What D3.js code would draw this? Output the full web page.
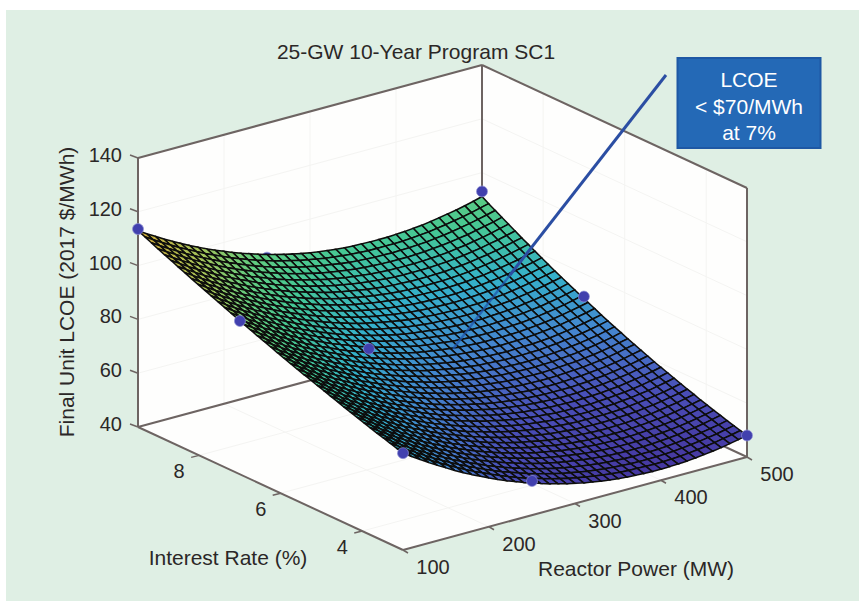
<!DOCTYPE html>
<html>
<head>
<meta charset="utf-8">
<script src="https://cdn.jsdelivr.net/npm/d3@7"></script>
<style>
  body { margin: 0; background: #fff; }
  text { font-family: "Liberation Sans", Arial, sans-serif; fill: #2b2727; }
</style>
</head>
<body>
<div id="wrapper"></div>
<script>
// axis ticks
const reactorTicks = [100, 200, 300, 400, 500];
const interestTicks = [4, 6, 8];
const lcoeTicks = [40, 60, 80, 100, 120, 140];

// the nine cases marked on the surface
const markerPower = [100, 100, 100, 250, 250, 250, 500, 500, 500];
const markerRate = [3, 7, 9.5, 3, 7, 9.5, 3, 7, 9.5];
const markerLcoe = [76, 97, 113.6, 52.7, 73.7, 90, 48, 71.5, 93];

const callout = ['LCOE', '< $70/MWh', 'at 7%'];

// mesh: one row per interest rate (3 to 9.5), one column per reactor power (100 to 500)
const meshPower = d3.range(100, 501, 10);
const meshRate = d3.range(41).map(k => 3 + k * 0.1625);
const meshLcoe = [
  [76.0,73.9,71.9,69.9,68.0,66.2,64.4,62.7,61.1,59.6,58.1,56.7,55.4,54.2,53.0,51.9,50.9,49.9,49.1,48.2,47.5,46.8,46.3,45.7,45.3,44.9,44.6,44.4,44.2,44.1,44.1,44.2,44.3,44.5,44.8,45.2,45.6,46.1,46.7,47.3,48.0],
  [76.7,74.6,72.6,70.6,68.7,66.9,65.2,63.5,61.9,60.3,58.9,57.5,56.2,54.9,53.7,52.6,51.6,50.7,49.8,49.0,48.2,47.6,47.0,46.5,46.0,45.6,45.3,45.1,45.0,44.9,44.8,44.9,45.0,45.2,45.5,45.9,46.3,46.8,47.4,48.0,48.7],
  [77.5,75.4,73.3,71.4,69.5,67.6,65.9,64.2,62.6,61.1,59.6,58.2,56.9,55.6,54.5,53.4,52.3,51.4,50.5,49.7,48.9,48.3,47.7,47.1,46.7,46.3,46.0,45.8,45.6,45.5,45.5,45.6,45.7,45.9,46.2,46.6,47.0,47.5,48.0,48.7,49.4],
  [78.3,76.1,74.1,72.1,70.2,68.4,66.6,65.0,63.3,61.8,60.4,59.0,57.6,56.4,55.2,54.1,53.1,52.1,51.2,50.4,49.7,49.0,48.4,47.9,47.4,47.0,46.7,46.5,46.3,46.2,46.3,46.3,46.4,46.6,46.9,47.3,47.7,48.2,48.8,49.4,50.1],
  [79.0,76.9,74.9,72.9,71.0,69.2,67.4,65.7,64.1,62.6,61.1,59.7,58.4,57.2,56.0,54.9,53.9,52.9,52.0,51.2,50.5,49.8,49.2,48.7,48.2,47.8,47.5,47.2,47.1,47.0,47.0,47.0,47.2,47.4,47.7,48.0,48.5,48.9,49.5,50.2,50.9],
  [79.8,77.7,75.7,73.7,71.8,70.0,68.2,66.5,64.9,63.4,61.9,60.5,59.2,58.0,56.8,55.7,54.7,53.7,52.8,52.0,51.2,50.6,50.0,49.5,49.0,48.6,48.3,48.0,47.9,47.8,47.8,47.8,48.0,48.2,48.5,48.8,49.2,49.7,50.3,50.9,51.6],
  [80.6,78.5,76.4,74.5,72.6,70.7,69.0,67.3,65.7,64.2,62.7,61.3,60.0,58.7,57.6,56.5,55.4,54.5,53.6,52.8,52.0,51.4,50.8,50.2,49.8,49.4,49.1,48.8,48.7,48.6,48.6,48.6,48.8,49.0,49.3,49.6,50.0,50.5,51.1,51.7,52.4],
  [81.4,79.3,77.3,75.3,73.4,71.5,69.8,68.1,66.5,65.0,63.5,62.1,60.8,59.5,58.4,57.3,56.2,55.3,54.4,53.6,52.8,52.2,51.6,51.0,50.6,50.2,49.9,49.6,49.5,49.4,49.4,49.4,49.6,49.8,50.1,50.4,50.8,51.3,51.9,52.5,53.2],
  [82.2,80.1,78.1,76.1,74.2,72.4,70.6,68.9,67.3,65.8,64.3,62.9,61.6,60.4,59.2,58.1,57.0,56.1,55.2,54.4,53.6,53.0,52.4,51.8,51.4,51.0,50.7,50.5,50.3,50.2,50.2,50.3,50.4,50.6,50.9,51.2,51.7,52.2,52.7,53.4,54.1],
  [83.0,80.9,78.9,76.9,75.0,73.2,71.4,69.7,68.1,66.6,65.1,63.7,62.4,61.2,60.0,58.9,57.9,56.9,56.0,55.2,54.5,53.8,53.2,52.7,52.2,51.9,51.6,51.3,51.2,51.1,51.1,51.1,51.3,51.5,51.7,52.1,52.5,53.0,53.6,54.2,54.9],
  [83.9,81.7,79.7,77.7,75.8,74.0,72.3,70.6,69.0,67.4,66.0,64.6,63.3,62.0,60.8,59.7,58.7,57.8,56.9,56.1,55.3,54.7,54.1,53.6,53.1,52.7,52.4,52.2,52.0,52.0,52.0,52.0,52.1,52.3,52.6,53.0,53.4,53.9,54.4,55.1,55.8],
  [84.7,82.6,80.5,78.6,76.7,74.9,73.1,71.4,69.8,68.3,66.8,65.4,64.1,62.9,61.7,60.6,59.6,58.6,57.7,56.9,56.2,55.5,54.9,54.4,54.0,53.6,53.3,53.1,52.9,52.8,52.8,52.9,53.0,53.2,53.5,53.8,54.3,54.7,55.3,56.0,56.7],
  [85.6,83.4,81.4,79.4,77.5,75.7,74.0,72.3,70.7,69.1,67.7,66.3,65.0,63.7,62.6,61.5,60.4,59.5,58.6,57.8,57.1,56.4,55.8,55.3,54.8,54.5,54.2,53.9,53.8,53.7,53.7,53.7,53.9,54.1,54.4,54.7,55.1,55.6,56.2,56.8,57.6],
  [86.4,84.3,82.3,80.3,78.4,76.6,74.8,73.1,71.5,70.0,68.6,67.2,65.9,64.6,63.4,62.3,61.3,60.4,59.5,58.7,57.9,57.3,56.7,56.2,55.7,55.4,55.1,54.8,54.7,54.6,54.6,54.7,54.8,55.0,55.3,55.6,56.1,56.6,57.1,57.8,58.5],
  [87.3,85.2,83.1,81.2,79.3,77.5,75.7,74.0,72.4,70.9,69.4,68.1,66.7,65.5,64.3,63.2,62.2,61.3,60.4,59.6,58.9,58.2,57.6,57.1,56.7,56.3,56.0,55.8,55.6,55.5,55.5,55.6,55.8,56.0,56.2,56.6,57.0,57.5,58.1,58.7,59.4],
  [88.1,86.0,84.0,82.0,80.1,78.3,76.6,74.9,73.3,71.8,70.3,68.9,67.6,66.4,65.2,64.1,63.1,62.2,61.3,60.5,59.8,59.1,58.5,58.0,57.6,57.2,56.9,56.7,56.5,56.5,56.5,56.5,56.7,56.9,57.2,57.5,58.0,58.5,59.0,59.7,60.4],
  [89.0,86.9,84.9,82.9,81.0,79.2,77.5,75.8,74.2,72.7,71.2,69.9,68.6,67.3,66.2,65.1,64.1,63.1,62.2,61.4,60.7,60.0,59.5,59.0,58.5,58.2,57.9,57.6,57.5,57.4,57.4,57.5,57.7,57.9,58.2,58.5,58.9,59.4,60.0,60.7,61.4],
  [89.9,87.8,85.8,83.8,81.9,80.1,78.4,76.7,75.1,73.6,72.2,70.8,69.5,68.3,67.1,66.0,65.0,64.1,63.2,62.4,61.7,61.0,60.4,59.9,59.5,59.1,58.8,58.6,58.5,58.4,58.4,58.5,58.7,58.9,59.1,59.5,59.9,60.4,61.0,61.7,62.4],
  [90.8,88.7,86.7,84.7,82.9,81.1,79.3,77.7,76.1,74.5,73.1,71.7,70.4,69.2,68.0,67.0,66.0,65.0,64.1,63.4,62.6,62.0,61.4,60.9,60.5,60.1,59.8,59.6,59.5,59.4,59.4,59.5,59.7,59.9,60.1,60.5,60.9,61.4,62.0,62.7,63.4],
  [91.7,89.6,87.6,85.7,83.8,82.0,80.2,78.6,77.0,75.5,74.0,72.7,71.4,70.2,69.0,67.9,66.9,66.0,65.1,64.3,63.6,63.0,62.4,61.9,61.5,61.1,60.8,60.6,60.5,60.4,60.4,60.5,60.6,60.9,61.2,61.5,62.0,62.5,63.1,63.7,64.5],
  [92.7,90.5,88.5,86.6,84.7,82.9,81.2,79.5,77.9,76.4,75.0,73.6,72.3,71.1,70.0,68.9,67.9,67.0,66.1,65.3,64.6,64.0,63.4,62.9,62.5,62.1,61.8,61.6,61.5,61.4,61.4,61.5,61.7,61.9,62.2,62.6,63.0,63.5,64.1,64.8,65.5],
  [93.6,91.5,89.5,87.5,85.7,83.9,82.1,80.5,78.9,77.4,76.0,74.6,73.3,72.1,71.0,69.9,68.9,68.0,67.1,66.3,65.6,65.0,64.4,63.9,63.5,63.1,62.9,62.7,62.5,62.5,62.5,62.6,62.7,63.0,63.3,63.7,64.1,64.6,65.2,65.9,66.6],
  [94.5,92.4,90.4,88.5,86.6,84.8,83.1,81.5,79.9,78.4,77.0,75.6,74.3,73.1,72.0,70.9,69.9,69.0,68.1,67.3,66.6,66.0,65.4,64.9,64.5,64.2,63.9,63.7,63.6,63.5,63.6,63.7,63.8,64.0,64.3,64.7,65.2,65.7,66.3,67.0,67.7],
  [95.5,93.4,91.4,89.5,87.6,85.8,84.1,82.4,80.9,79.4,78.0,76.6,75.3,74.1,73.0,72.0,71.0,70.0,69.2,68.4,67.7,67.0,66.5,66.0,65.6,65.3,65.0,64.8,64.7,64.6,64.7,64.8,64.9,65.2,65.5,65.9,66.3,66.9,67.5,68.1,68.9],
  [96.4,94.4,92.4,90.4,88.6,86.8,85.1,83.4,81.8,80.4,79.0,77.6,76.3,75.1,74.0,73.0,72.0,71.0,70.2,69.4,68.7,68.1,67.6,67.1,66.7,66.3,66.1,65.9,65.8,65.8,65.8,65.9,66.0,66.3,66.6,67.0,67.4,68.0,68.6,69.3,70.0],
  [97.4,95.3,93.4,91.4,89.6,87.8,86.1,84.4,82.9,81.4,80.0,78.6,77.4,76.2,75.0,74.0,73.0,72.1,71.3,70.5,69.8,69.1,68.6,68.2,67.8,67.4,67.2,67.0,66.9,66.8,66.9,67.0,67.2,67.4,67.7,68.1,68.6,69.1,69.7,70.4,71.2],
  [98.4,96.3,94.3,92.4,90.6,88.8,87.1,85.5,83.9,82.4,81.0,79.7,78.4,77.2,76.1,75.0,74.1,73.2,72.3,71.6,70.9,70.2,69.7,69.3,68.9,68.5,68.3,68.1,68.0,68.0,68.0,68.1,68.3,68.6,68.9,69.3,69.7,70.3,70.9,71.6,72.4],
  [99.4,97.3,95.3,93.4,91.6,89.8,88.1,86.5,84.9,83.4,82.0,80.7,79.4,78.2,77.1,76.1,75.1,74.2,73.4,72.6,71.9,71.3,70.8,70.4,70.0,69.6,69.4,69.2,69.1,69.1,69.1,69.3,69.5,69.7,70.0,70.5,70.9,71.5,72.1,72.8,73.6],
  [100.4,98.3,96.3,94.4,92.6,90.8,89.1,87.5,86.0,84.5,83.1,81.8,80.5,79.3,78.2,77.2,76.2,75.3,74.5,73.7,73.1,72.5,71.9,71.5,71.1,70.8,70.6,70.4,70.3,70.3,70.3,70.5,70.7,70.9,71.2,71.7,72.2,72.7,73.4,74.1,74.8],
  [101.4,99.3,97.3,95.4,93.6,91.8,90.2,88.5,87.0,85.5,84.2,82.8,81.6,80.4,79.3,78.3,77.3,76.4,75.6,74.9,74.2,73.6,73.1,72.6,72.3,72.0,71.7,71.6,71.5,71.4,71.5,71.6,71.8,72.1,72.4,72.9,73.4,74.0,74.6,75.3,76.0],
  [102.4,100.3,98.4,96.5,94.6,92.9,91.2,89.6,88.1,86.6,85.2,83.9,82.7,81.5,80.4,79.4,78.4,77.5,76.7,76.0,75.3,74.8,74.2,73.8,73.4,73.1,72.9,72.8,72.7,72.6,72.7,72.9,73.1,73.4,73.7,74.1,74.6,75.2,75.9,76.6,77.3],
  [103.4,101.4,99.4,97.5,95.7,93.9,92.3,90.7,89.1,87.7,86.3,85.0,83.8,82.6,81.5,80.5,79.6,78.7,77.9,77.2,76.5,75.9,75.4,75.0,74.6,74.3,74.1,74.0,73.9,73.8,73.9,74.1,74.3,74.6,75.0,75.4,75.9,76.5,77.1,77.8,78.6],
  [104.4,102.4,100.4,98.6,96.7,95.0,93.3,91.8,90.2,88.8,87.4,86.1,84.9,83.7,82.7,81.6,80.7,79.8,79.0,78.3,77.7,77.1,76.6,76.2,75.8,75.5,75.3,75.2,75.1,75.1,75.2,75.3,75.5,75.9,76.2,76.7,77.2,77.8,78.4,79.2,79.9],
  [105.5,103.4,101.5,99.6,97.8,96.1,94.4,92.9,91.3,89.9,88.5,87.2,86.0,84.9,83.8,82.8,81.9,81.0,80.2,79.5,78.9,78.3,77.8,77.4,77.0,76.7,76.5,76.4,76.3,76.4,76.4,76.6,76.8,77.1,77.5,78.0,78.5,79.1,79.8,80.5,81.3],
  [106.5,104.5,102.6,100.7,98.9,97.2,95.5,94.0,92.4,91.0,89.7,88.4,87.2,86.0,85.0,84.0,83.1,82.2,81.4,80.7,80.1,79.5,79.0,78.6,78.2,77.9,77.8,77.6,77.6,77.6,77.7,77.8,78.1,78.4,78.8,79.3,79.8,80.4,81.1,81.9,82.6],
  [107.6,105.6,103.6,101.8,100.0,98.3,96.6,95.1,93.6,92.2,90.8,89.5,88.3,87.2,86.1,85.1,84.2,83.4,82.6,81.9,81.3,80.7,80.2,79.8,79.5,79.2,79.0,78.9,78.9,78.9,79.0,79.2,79.4,79.7,80.1,80.6,81.1,81.8,82.4,83.2,84.0],
  [108.6,106.6,104.7,102.9,101.1,99.4,97.7,96.2,94.7,93.3,91.9,90.7,89.5,88.3,87.3,86.3,85.4,84.6,83.8,83.1,82.5,81.9,81.5,81.1,80.7,80.5,80.3,80.2,80.2,80.2,80.3,80.5,80.7,81.0,81.5,81.9,82.5,83.1,83.8,84.6,85.4],
  [109.7,107.7,105.9,104.0,102.2,100.5,98.9,97.3,95.8,94.4,93.1,91.8,90.6,89.5,88.5,87.5,86.6,85.8,85.0,84.3,83.7,83.2,82.7,82.3,82.0,81.8,81.6,81.5,81.5,81.5,81.6,81.8,82.1,82.4,82.8,83.3,83.8,84.5,85.2,85.9,86.8],
  [110.8,108.8,106.9,105.1,103.3,101.6,100.0,98.5,97.0,95.6,94.3,93.0,91.8,90.7,89.7,88.7,87.8,87.0,86.3,85.6,85.0,84.5,84.0,83.6,83.3,83.1,82.9,82.9,82.8,82.9,83.0,83.2,83.4,83.8,84.2,84.7,85.3,85.9,86.6,87.4,88.2],
  [111.9,109.9,108.0,106.2,104.4,102.8,101.2,99.6,98.2,96.8,95.4,94.2,93.0,91.9,90.9,89.9,89.1,88.3,87.5,86.9,86.3,85.7,85.3,84.9,84.6,84.4,84.2,84.2,84.2,84.2,84.3,84.5,84.8,85.1,85.6,86.1,86.7,87.3,88.0,88.8,89.6],
  [113.0,111.0,109.2,107.3,105.6,103.9,102.3,100.8,99.3,97.9,96.7,95.4,94.2,93.2,92.1,91.2,90.3,89.5,88.8,88.1,87.5,87.0,86.6,86.2,85.9,85.7,85.6,85.5,85.5,85.5,85.7,85.9,86.2,86.5,87.0,87.5,88.1,88.7,89.4,90.2,91.1]
];

function drawSurfaceChart() {
  const dimensions = { width: 859, height: 603 };

  // box projection: each data axis moves the point along its own screen direction
  const powerX = d3.scaleLinear().domain([100, 500]).range([0, 344]);
  const powerY = d3.scaleLinear().domain([100, 500]).range([0, -93]);
  const rateX = d3.scaleLinear().domain([3, 9.5]).range([403, 138]);
  const rateY = d3.scaleLinear().domain([3, 9.5]).range([550, 427]);
  const lcoeY = d3.scaleLinear().domain([40, 140]).range([0, -269]);

  const project = (power, rate, lcoe) => [
    rateX(rate) + powerX(power),
    rateY(rate) + powerY(power) + lcoeY(lcoe)
  ];

  const color = d3.scaleLinear()
    .domain([44, 55, 65, 75, 85, 92, 100, 113])
    .range(['#4537a0', '#4a50b8', '#4485cf', '#35b0cb', '#45c795', '#62cc80', '#a3c45c', '#d0a838'])
    .clamp(true);

  const wrapper = d3.select('#wrapper')
    .append('svg')
      .attr('width', dimensions.width)
      .attr('height', dimensions.height)
      .style('display', 'block');

  const soften = wrapper.append('defs').append('filter')
      .attr('id', 'soften')
      .attr('x', '-5%')
      .attr('y', '-5%')
      .attr('width', '110%')
      .attr('height', '110%');
  soften.append('feGaussianBlur').attr('stdDeviation', 0.45);

  wrapper.append('rect')
      .attr('x', 6)
      .attr('y', 10)
      .attr('width', 853)
      .attr('height', 591)
      .attr('fill', '#dfefe4');

  const line = d3.line();
  const polygon = pts => line(pts) + 'Z';

  // back panes and floor
  const panes = [
    [project(100, 9.5, 40), project(100, 9.5, 140), project(500, 9.5, 140), project(500, 9.5, 40)],
    [project(500, 9.5, 40), project(500, 9.5, 140), project(500, 3, 140), project(500, 3, 40)],
    [project(100, 9.5, 40), project(500, 9.5, 40), project(500, 3, 40), project(100, 3, 40)]
  ];
  wrapper.append('g').selectAll('path')
    .data(panes)
    .join('path')
      .attr('d', polygon)
      .attr('fill', '#fefefd');

  // faint grid
  const grid = wrapper.append('g')
      .attr('fill', 'none')
      .attr('stroke', '#f4f4f2')
      .attr('stroke-width', 1);
  reactorTicks.forEach(p => {
    grid.append('path').attr('d', line([project(p, 9.5, 140), project(p, 9.5, 40), project(p, 3, 40)]));
  });
  interestTicks.forEach(r => {
    grid.append('path').attr('d', line([project(100, r, 40), project(500, r, 40), project(500, r, 140)]));
  });
  lcoeTicks.forEach(z => {
    grid.append('path').attr('d', line([project(100, 9.5, z), project(500, 9.5, z), project(500, 3, z)]));
  });

  // box edges
  const axisColor = '#6d6462';
  const edges = [
    [project(100, 9.5, 40), project(100, 9.5, 140)],
    [project(100, 9.5, 140), project(500, 9.5, 140)],
    [project(500, 9.5, 140), project(500, 3, 140)],
    [project(500, 3, 140), project(500, 3, 40)],
    [project(500, 9.5, 140), project(500, 9.5, 40)],
    [project(100, 9.5, 40), project(500, 9.5, 40)],
    [project(500, 9.5, 40), project(500, 3, 40)],
    [project(100, 9.5, 40), project(100, 3, 40)],
    [project(100, 3, 40), project(500, 3, 40)]
  ];
  wrapper.append('g').selectAll('path')
    .data(edges)
    .join('path')
      .attr('d', line)
      .attr('fill', 'none')
      .attr('stroke', axisColor)
      .attr('stroke-width', 2);

  // ticks and tick labels
  const ticks = wrapper.append('g')
      .attr('stroke', axisColor)
      .attr('stroke-width', 1.5);
  const labels = wrapper.append('g')
      .attr('font-size', 20);

  lcoeTicks.forEach(z => {
    const [x, y] = project(100, 9.5, z);
    ticks.append('line').attr('x1', x).attr('y1', y).attr('x2', x - 8).attr('y2', y - 3);
    labels.append('text').attr('x', x - 16).attr('y', y + 4).attr('text-anchor', 'end').text(z);
  });
  reactorTicks.forEach(p => {
    const [x, y] = project(p, 3, 40);
    ticks.append('line').attr('x1', x).attr('y1', y).attr('x2', x + 5).attr('y2', y + 3);
    labels.append('text').attr('x', x + 30).attr('y', y + 24).attr('text-anchor', 'middle').text(p);
  });
  interestTicks.forEach(r => {
    const [x, y] = project(100, r, 40);
    ticks.append('line').attr('x1', x).attr('y1', y).attr('x2', x - 8).attr('y2', y + 2);
    labels.append('text').attr('x', x - 20).attr('y', y + 23).attr('text-anchor', 'middle').text(r);
  });

  const isBehind = (p, r, z) => {
    const row = meshLcoe[d3.bisectCenter(meshRate, r)];
    return z < row[d3.bisectCenter(meshPower, p)] - 0.5;
  };
  const markers = markerPower.map((p, i) => ({
    pos: project(p, markerRate[i], markerLcoe[i]),
    behind: isBehind(p, markerRate[i], markerLcoe[i])
  }));

  const drawMarkers = subset => wrapper.append('g').selectAll('circle')
    .data(subset)
    .join('circle')
      .attr('cx', d => d.pos[0])
      .attr('cy', d => d.pos[1])
      .attr('r', 5.5)
      .attr('fill', '#4140ae')
      .attr('stroke', '#8f90d4')
      .attr('stroke-opacity', 0.7)
      .attr('stroke-width', 1);

  drawMarkers(markers.filter(d => d.behind));

  // surface cells, far corner first
  const cells = [];
  for (let k = meshRate.length - 2; k >= 0; k--) {
    for (let c = meshPower.length - 2; c >= 0; c--) {
      const zs = [meshLcoe[k][c], meshLcoe[k][c + 1], meshLcoe[k + 1][c + 1], meshLcoe[k + 1][c]];
      cells.push({
        pts: [
          project(meshPower[c], meshRate[k], zs[0]),
          project(meshPower[c + 1], meshRate[k], zs[1]),
          project(meshPower[c + 1], meshRate[k + 1], zs[2]),
          project(meshPower[c], meshRate[k + 1], zs[3])
        ],
        z: d3.mean(zs)
      });
    }
  }
  wrapper.append('g')
      .attr('filter', 'url(#soften)')
    .selectAll('path')
    .data(cells)
    .join('path')
      .attr('d', d => polygon(d.pts))
      .attr('fill', d => color(d.z))
      .attr('stroke', '#0c0c0a')
      .attr('stroke-width', 1.5);

  drawMarkers(markers.filter(d => !d.behind));

  // leader: solid above the surface, thinner and fading as it crosses it
  wrapper.append('line')
      .attr('x1', 666)
      .attr('y1', 75)
      .attr('x2', 510)
      .attr('y2', 275)
      .attr('stroke', '#2b4ea3')
      .attr('stroke-width', 3);

  wrapper.append('line')
      .attr('x1', 510)
      .attr('y1', 275)
      .attr('x2', 453)
      .attr('y2', 349)
      .attr('stroke', '#1f56ad')
      .attr('stroke-opacity', 0.75)
      .attr('stroke-width', 2.4);

  wrapper.append('rect')
      .attr('x', 677.5)
      .attr('y', 58)
      .attr('width', 143)
      .attr('height', 90)
      .attr('fill', '#2469b6')
      .attr('stroke', '#1e58a4')
      .attr('stroke-width', 2);

  wrapper.append('g').selectAll('text')
    .data(callout)
    .join('text')
      .attr('x', 749)
      .attr('y', (d, i) => 87 + i * 26.5)
      .attr('text-anchor', 'middle')
      .attr('font-size', 21)
      .style('fill', '#fff')
      .text(d => d);

  // titles
  wrapper.append('text')
      .attr('x', 416)
      .attr('y', 59)
      .attr('text-anchor', 'middle')
      .attr('font-size', 21)
      .text('25-GW 10-Year Program SC1');

  wrapper.append('text')
      .attr('x', 228)
      .attr('y', 565)
      .attr('text-anchor', 'middle')
      .attr('font-size', 21)
      .text('Interest Rate (%)');

  wrapper.append('text')
      .attr('x', 636)
      .attr('y', 576)
      .attr('text-anchor', 'middle')
      .attr('font-size', 21)
      .text('Reactor Power (MW)');

  wrapper.append('text')
      .attr('transform', 'translate(74,292) rotate(-90)')
      .attr('text-anchor', 'middle')
      .attr('font-size', 21)
      .text('Final Unit LCOE (2017 $/MWh)');
}

drawSurfaceChart();
</script>
</body>
</html>
